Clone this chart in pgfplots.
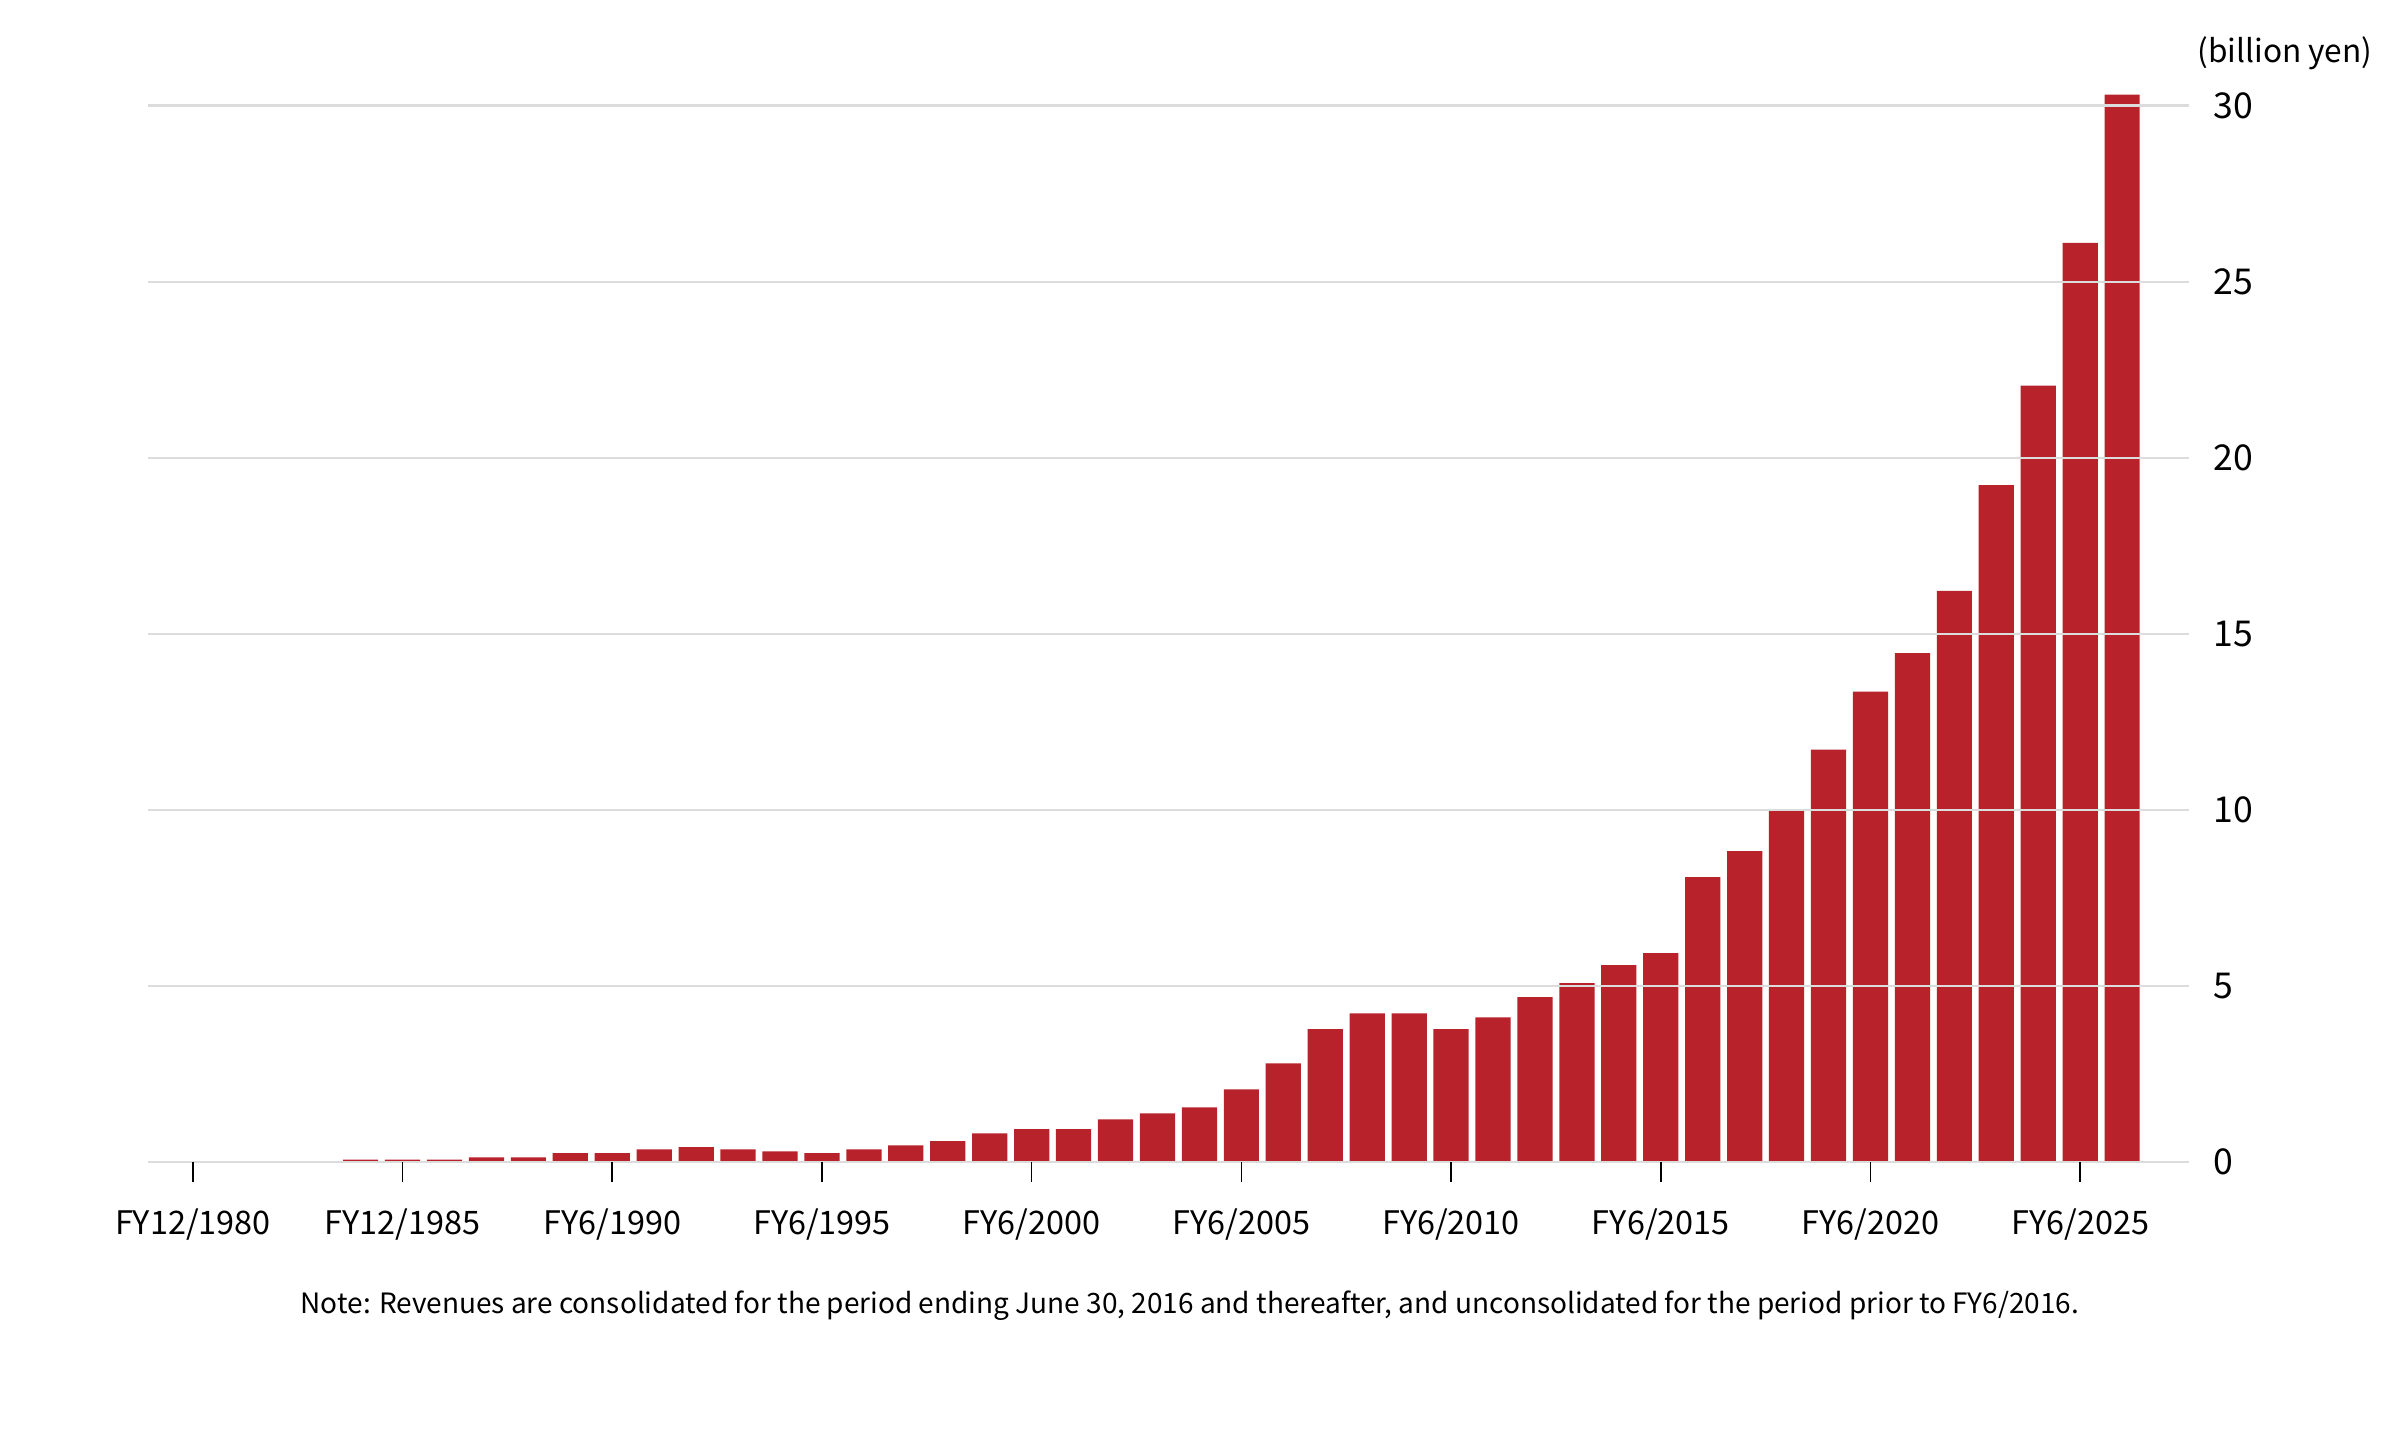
\documentclass[border=0pt]{standalone}
\usepackage{fontspec}
\setmainfont{Noto Sans CJK JP}
\usepackage{pgfplots}
\pgfplotsset{compat=1.18}
\definecolor{barred}{HTML}{B8222B}
\definecolor{gridgray}{HTML}{DCDCDC}
\begin{document}
\begin{tikzpicture}
\path[use as bounding box] (0,0) rectangle (600pt,363pt);
\begin{axis}[
  at={(37.1pt,72.5pt)}, anchor=south west,
  scale only axis, width=510.1pt, height=264.1pt,
  xmin=-1.06, xmax=47.59, ymin=0, ymax=30,
  clip=false,
  ybar, bar width=0.84,
  axis line style={draw=none},
  ymajorgrids, grid style={gridgray, line width=0.55pt},
  axis on top,
  ytick={0,5,...,30}, yticklabel pos=right, ytick pos=right, ytick style={draw=none},
  xtick={0,5,...,45},
  xticklabels={FY12/1980,FY12/1985,FY6/1990,FY6/1995,FY6/2000,FY6/2005,FY6/2010,FY6/2015,FY6/2020,FY6/2025},
  xtick pos=bottom, tick align=outside, major tick length=5pt,
  xtick style={black, line width=0.4pt},
  xticklabel style={font=\fontsize{8.1}{10}\selectfont, yshift=-3.2pt},
  yticklabel style={font=\fontsize{8.9}{10}\selectfont, anchor=west, xshift=-2.3pt},
  /pgf/number format/assume math mode=true,
]
\addplot[fill=barred, draw=none] coordinates {
(4,0.07) (5,0.07) (6,0.07) (7,0.13) (8,0.13) (9,0.25) (10,0.25) (11,0.36) (12,0.42) (13,0.36)
(14,0.30) (15,0.25) (16,0.36) (17,0.47) (18,0.59) (19,0.81) (20,0.93) (21,0.93) (22,1.21) (23,1.38)
(24,1.55) (25,2.06) (26,2.80) (27,3.77) (28,4.22) (29,4.22) (30,3.77) (31,4.11) (32,4.68) (33,5.08)
(34,5.59) (35,5.93) (36,8.09) (37,8.83) (38,9.98) (39,11.71) (40,13.36) (41,14.45) (42,16.22) (43,19.22)
(44,22.05) (45,26.10) (46,30.31)
};
\end{axis}
\node[anchor=east, font=\fontsize{7.9}{10}\selectfont, inner sep=0pt] at (593.3pt,349.6pt) {(billion yen)};
\node[anchor=center, font=\fontsize{7.0}{10}\selectfont, inner sep=0pt] at (297.5pt,36.6pt) {Note: Revenues are consolidated for the period ending June 30, 2016 and thereafter, and unconsolidated for the period prior to FY6/2016.};
\end{tikzpicture}
\end{document}
